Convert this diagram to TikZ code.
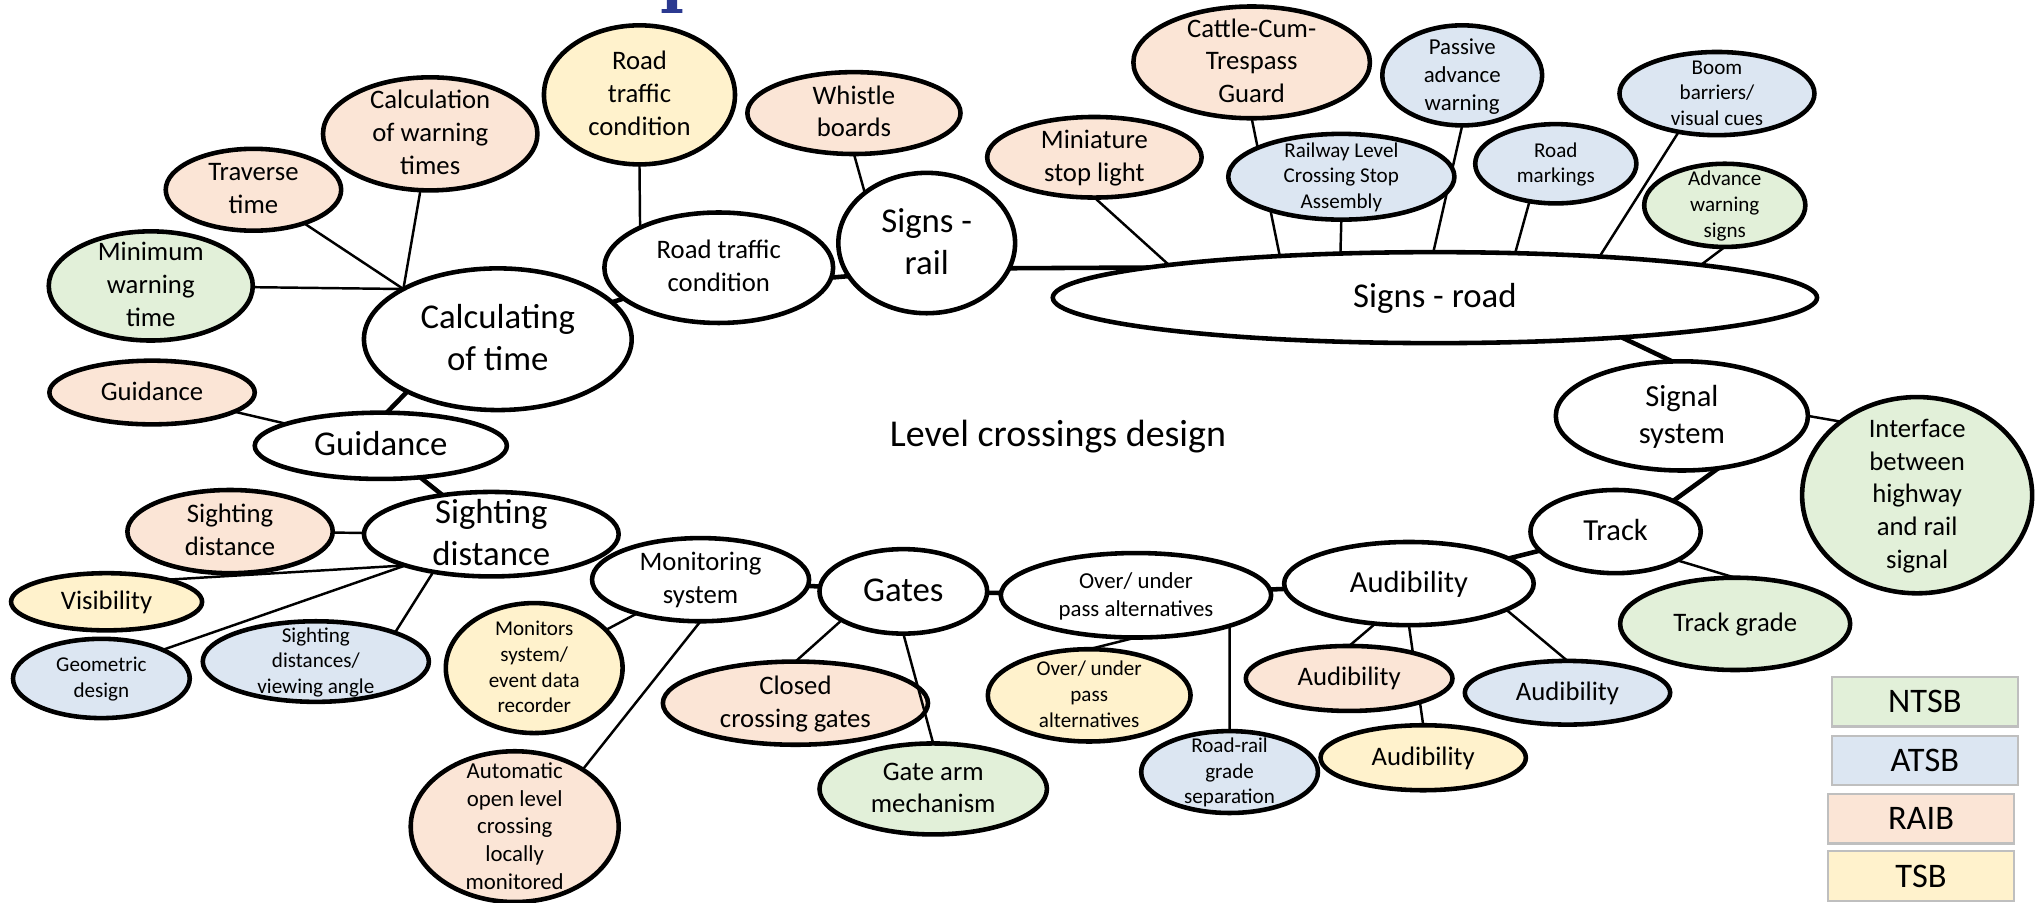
\documentclass[tikz,border=0pt]{standalone}
\usepackage{fontspec}
\setmainfont{Carlito}
\usepackage{tikz}
\usetikzlibrary{shapes.geometric, backgrounds}
\definecolor{ntsbgreen}{HTML}{E2F0D9}
\definecolor{atsbblue}{HTML}{DCE6F2}
\definecolor{raibpeach}{HTML}{FBE5D6}
\definecolor{tsbyellow}{HTML}{FFF2CC}
\definecolor{titleblue}{HTML}{2B3990}
\newcommand{\bubtext}[1]{\raisebox{-.3em}[0pt][0pt]{\begin{tabular}{@{}c@{}}#1\end{tabular}}}
\tikzset{
	bub/.style={ellipse, draw, line width=1.3pt, fill=white, inner sep=0pt, outer sep=0pt},
	sz/.style 2 args={minimum width=#1*0.013cm, minimum height=#2*0.013cm},
	fhead/.style={font=\fontsize{10.8}{13}\selectfont},
	fmain/.style={font=\fontsize{9.9}{12}\selectfont},
	fsub/.style={font=\fontsize{8.7}{10.6}\selectfont},
	fleaf/.style={font=\fontsize{7.6}{9.3}\selectfont},
	fnote/.style={font=\fontsize{6.5}{7.9}\selectfont},
	fmini/.style={font=\fontsize{6}{7.3}\selectfont},
	link/.style={line width=1.3pt},
	spoke/.style={line width=0.7pt},
	keybox/.style={rectangle, draw=black!25, line width=0.6pt, inner sep=0pt, sz={143}{38}, font=\fontsize{9.8}{12}\selectfont}
}
\begin{document}
\begin{tikzpicture}[x=0.013cm, y=-0.013cm]
	\useasboundingbox (0,0) rectangle (1568,694);
	\fill[titleblue] (513,0) rectangle (521,8) (509,7) rectangle (525,10);

	\node[fhead] (lcd) at (814,336) {Level crossings design};

	\node[bub, fill=ntsbgreen, sz={157}{84}, fleaf] (minwarn) at (116,220) {\bubtext{Minimum\\warning\\time}};
	\node[bub, fill=raibpeach, sz={135}{63}, fleaf] (traverse) at (195,146) {\bubtext{Traverse\\time}};
	\node[bub, fill=raibpeach, sz={165}{87}, fleaf] (calcwarn) at (331,103) {\bubtext{Calculation\\of warning\\times}};
	\node[bub, fill=tsbyellow, sz={147}{107}, fleaf] (rtcy) at (492,73) {\bubtext{Road\\traffic\\condition}};
	\node[bub, sz={206}{109}, fmain] (calc) at (383,261) {\bubtext{Calculating\\of time}};
	\node[bub, fill=raibpeach, sz={158}{49}, fleaf] (guidr) at (117,302) {\bubtext{Guidance}};
	\node[bub, sz={194}{51}, fmain] (guid) at (293,343) {\bubtext{Guidance}};
	\node[bub, sz={176}{85}, fleaf] (rtc) at (553,206) {\bubtext{Road traffic\\condition}};
	\node[bub, fill=raibpeach, sz={164}{63}, fleaf] (whistle) at (657,87) {\bubtext{Whistle\\boards}};
	\node[bub, sz={136}{108}, fmain] (srail) at (713,187) {\bubtext{Signs -\\rail}};

	\node[bub, fill=raibpeach, sz={165}{62}, fleaf] (mini) at (842,121) {\bubtext{Miniature\\stop light}};
	\node[bub, fill=raibpeach, sz={182}{86}, fleaf] (cattle) at (963,48) {\bubtext{Cattle-Cum-\\Trespass\\Guard}};
	\node[bub, fill=atsbblue, sz={174}{66}, fmini] (rlcsa) at (1032,136) {\bubtext{Railway Level\\Crossing Stop\\Assembly}};
	\node[bub, fill=atsbblue, sz={123}{77}, fnote] (passive) at (1125,58) {\bubtext{Passive\\advance\\warning}};
	\node[bub, fill=atsbblue, sz={124}{61}, fmini] (rm) at (1197,126) {\bubtext{Road\\markings}};
	\node[bub, fill=atsbblue, sz={150}{64}, fmini] (boom) at (1321,72) {\bubtext{Boom\\barriers/\\visual cues}};
	\node[bub, fill=ntsbgreen, sz={124}{64}, fmini] (aws) at (1327,158) {\bubtext{Advance\\warning\\signs}};
	\node[bub, sz={588}{70}, fmain] (sroad) at (1104,229) {\bubtext{Signs - road}};

	\node[bub, sz={194}{84}, fsub] (sig) at (1294,320) {\bubtext{Signal\\system}};
	\node[bub, fill=ntsbgreen, sz={177}{151}, fleaf] (iface) at (1475,381) {\bubtext{Interface\\between\\highway\\and rail\\signal}};
	\node[bub, sz={131}{64}, fsub] (track) at (1243,409) {\bubtext{Track}};
	\node[bub, fill=ntsbgreen, sz={177}{71}, fleaf] (tgrade) at (1335,480) {\bubtext{Track grade}};
	\node[bub, sz={192}{64}, fsub] (aud) at (1084,449) {\bubtext{Audibility}};
	\node[bub, fill=raibpeach, sz={159}{50}, fleaf] (audr) at (1038,522) {\bubtext{Audibility}};
	\node[bub, fill=tsbyellow, sz={158}{50}, fleaf] (audy) at (1095,583) {\bubtext{Audibility}};
	\node[bub, fill=atsbblue, sz={158}{49}, fleaf] (audb) at (1206,533) {\bubtext{Audibility}};

	\node[bub, sz={208}{65}, fnote] (over) at (874,458) {\bubtext{Over/ under\\pass alternatives}};
	\node[bub, fill=tsbyellow, sz={156}{71}, fmini] (overy) at (838,535) {\bubtext{Over/ under\\pass\\alternatives}};
	\node[bub, fill=atsbblue, sz={136}{63}, fmini] (rr) at (946,594) {\bubtext{Road-rail\\grade\\separation}};
	\node[bub, sz={129}{65}, fmain] (gates) at (695,455) {\bubtext{Gates}};
	\node[bub, fill=raibpeach, sz={204}{64}, fleaf] (closed) at (612,541) {\bubtext{Closed\\crossing gates}};
	\node[bub, fill=ntsbgreen, sz={175}{70}, fleaf] (gatearm) at (718,607) {\bubtext{Gate arm\\mechanism}};
	\node[bub, sz={167}{64}, fleaf] (mon) at (539,446) {\bubtext{Monitoring\\system}};
	\node[bub, fill=tsbyellow, sz={136}{100}, fmini] (monrec) at (411,514) {\bubtext{Monitors\\system/\\event data\\recorder}};
	\node[bub, fill=raibpeach, sz={160}{116}, fnote] (auto) at (396,636) {\bubtext{Automatic\\open level\\crossing\\locally\\monitored}};

	\node[bub, sz={196}{65}, fmain] (sight) at (378,411) {\bubtext{Sighting\\distance}};
	\node[bub, fill=raibpeach, sz={158}{64}, fleaf] (sightr) at (177,409) {\bubtext{Sighting\\distance}};
	\node[bub, fill=tsbyellow, sz={147}{44}, fleaf] (vis) at (82,463) {\bubtext{Visibility}};
	\node[bub, fill=atsbblue, sz={136}{61}, fmini] (geo) at (78,522) {\bubtext{Geometric\\design}};
	\node[bub, fill=atsbblue, sz={174}{62}, fmini] (view) at (243,509) {\bubtext{Sighting\\distances/\\viewing angle}};

	\node[keybox, fill=ntsbgreen] (ntsbkey) at (1481,540) {NTSB};
	\node[keybox, fill=atsbblue] (atsbkey) at (1481,585) {ATSB};
	\node[keybox, fill=raibpeach] (raibkey) at (1478,630) {RAIB};
	\node[keybox, fill=tsbyellow] (tsbkey) at (1478,674) {TSB};

	\begin{scope}[on background layer]
		\draw[link] (calc) -- (rtc);
		\draw[link] (rtc.-5) -- (srail.203);
		\draw[link] (srail.-17) -- (sroad.174);
		\draw[link] (sroad.-12) -- (sig.100);
		\draw[link] (sig.305) -- (track.28);
		\draw[link] (track) -- (aud);
		\draw[link] (aud) -- (over);
		\draw[link] (over) -- (gates);
		\draw[link] (gates) -- (mon);
		\draw[link] (guid) -- (sight);
		\draw[link] (calc.210) -- (guid.80);

		\draw[spoke] (minwarn) -- (calc.152);
		\draw[spoke] (traverse) -- (calc.152);
		\draw[spoke] (calcwarn) -- (calc.152);
		\draw[spoke] (guidr) -- (guid);
		\draw[spoke] (rtcy.south) -- (rtc.153);
		\draw[spoke] (whistle.south) -- (srail.141);
		\draw[spoke] (mini.south) -- (sroad.173);
		\draw[spoke] (cattle.south) -- (sroad.165);
		\draw[spoke] (rlcsa.south) -- (sroad.155);
		\draw[spoke] (passive.south) -- (sroad.92);
		\draw[spoke] (rm.235) -- (sroad.29);
		\draw[spoke] (boom.225) -- (sroad.14);
		\draw[spoke] (aws.south) -- (sroad.7);
		\draw[spoke] (sig.east) -- (iface.136);
		\draw[spoke] (tgrade.north) -- (track.-25);
		\draw[spoke] (audr.north) -- (aud.230);
		\draw[spoke] (audy.north) -- (aud.south);
		\draw[spoke] (audb.north) -- (aud.-15);
		\draw[spoke] (rr.north) -- (over.-18);
		\draw[spoke] (overy.north) -- (over.south);
		\draw[spoke] (closed.north) -- (gates.205);
		\draw[spoke] (monrec) -- (mon);
		\draw[spoke] (auto.40) -- (mon.south);
		\draw[spoke] (sightr) -- (sight);
		\draw[spoke] (vis.20) -- (sight.200);
		\draw[spoke] (geo.25) -- (sight.200);
		\draw[spoke] (view.20) -- (sight.213);
	\end{scope}
	\draw[spoke] (gates.south) -- (gatearm.north);
\end{tikzpicture}
\end{document}
